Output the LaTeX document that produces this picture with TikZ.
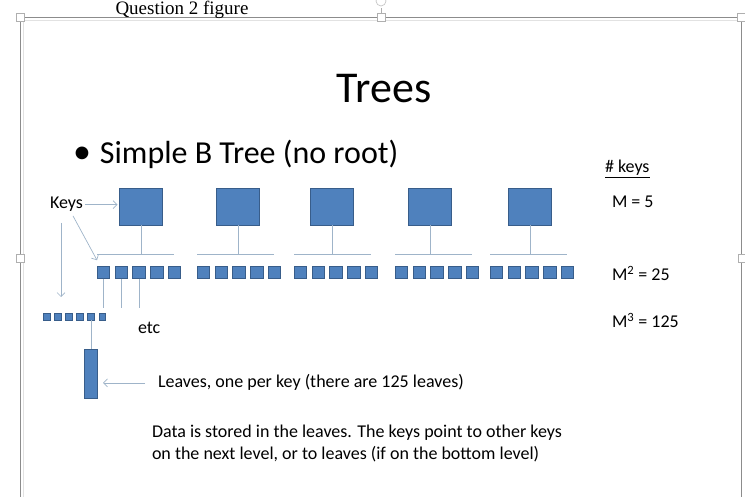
\documentclass[tikz,border=0pt]{standalone}
\usepackage{fontspec}
\setmainfont{Carlito}
\newfontfamily\capfont{Liberation Serif}
\usetikzlibrary{arrows.meta,positioning,calc}

\definecolor{keyblue}{HTML}{4F81BD}
\definecolor{keyedge}{HTML}{385D8A}
\definecolor{wirecol}{HTML}{9FB4C9}
\definecolor{framegray}{HTML}{8C8C8C}

\begin{document}
\begin{tikzpicture}[
  x=1pt, y=-1pt,
  >={Straight Barb[length=4pt,width=8pt]},
  every node/.style={inner sep=0pt, outer sep=0pt},
  bignode/.style={draw=keyedge, fill=keyblue, line width=0.8pt, minimum width=43pt, minimum height=37pt},
  keynode/.style={draw=keyedge, fill=keyblue, line width=0.6pt, minimum size=12.5pt},
  tinykey/.style={draw=keyedge, fill=keyblue, line width=0.4pt, minimum size=6.5pt},
  leafnode/.style={draw=keyedge, fill=keyblue, line width=0.6pt, minimum width=13pt, minimum height=49pt},
  wire/.style={draw=wirecol, line width=0.7pt},
  note/.style={anchor=base west, font=\fontsize{18}{21}\selectfont},
  handle/.style={draw=framegray!70, fill=white, line width=0.7pt, minimum size=8pt}
]
\useasboundingbox (0,0) rectangle (745,497);

% --- picture frame with its handles ---
\draw[framegray!25, line width=1.4pt] (23.5,497) -- (23.5,20.5) -- (738,20.5);
\draw[framegray, line width=0.8pt] (20,497) -- (20,17) -- (740,17);
\draw[framegray, line width=0.8pt] (741,22) -- (741,497);
\draw[framegray!70, line width=0.7pt] (381,17) -- (381,8);
\draw[framegray!50, line width=0.7pt] (381,1) circle (5);
\node[handle] (hTL) at (20,17) {};
\node[handle] (hTM) at (381,17) {};
\node[handle] (hTR) at (741,17) {};
\node[handle] (hML) at (20,258) {};
\node[handle] (hMR) at (742,258) {};

\node[anchor=base, font=\capfont\fontsize{19}{23}\selectfont] (caption) at (182,15) {Question 2 figure};

% --- titles ---
\node[anchor=base, font=\fontsize{44}{52}\selectfont] (title) at (384,103) {Trees};
\node[anchor=base west, font=\fontsize{32}{38}\selectfont] (bullet) at (73,164) {{\fontsize{36}{36}\selectfont\textbullet}\hspace{9pt}Simple B Tree (no root)};

% --- top level, five groups of five keys ---
\foreach \g/\xl/\xc in {1/97/141, 2/197/238, 3/294/332, 4/395/430, 5/490/530} {
  \node[bignode] (top\g) at (\xc,206.5) {};
  \coordinate (busL\g) at (\xl,254);
  \coordinate (busR\g) at (\xl+77,254);
  \draw[wire] (top\g.south) -- (top\g.south |- busL\g);
  \draw[wire] (busL\g) -- (busR\g);
  \foreach \k in {1,...,5} {
    \node[keynode] (k\g-\k) at ({\xl+6.3+17.8*(\k-1)},272.5) {};
  }
}

% --- third level ---
\coordinate (lvl3) at (0,308);
\foreach \k in {1,2,3} {
  \draw[wire] (k1-\k.south) -- (k1-\k.south |- lvl3);
}
\foreach \j in {1,...,6} {
  \node[tinykey] (s\j) at ({46.5+11.1*(\j-1)},316.5) {};
}
\node[leafnode] (leaf) at (90.5,373.5) {};
\draw[wire] (s5.south) -- (s5.south |- leaf.north);

% --- labels ---
\node[note] (keys) at (50,209) {Keys};
\node[note] (etc) at (138,334) {etc};
\node[note] (leaves) at (158,388) {Leaves, one per key (there are 125 leaves)};
\node[note] (data1) at (152,437) {Data is stored in the leaves. The keys point to other keys};
\node[note] (data2) at (152,459) {on the next level, or to leaves (if on the bottom level)};

\node[note] (hdr) at (605,173) {\underline{\# keys}};
\node[note] (m1) at (612,208) {M = 5};
\node[note] (m2) at (612,281) {M\textsuperscript{2} = 25};
\node[note] (m3) at (612,328) {M\textsuperscript{3} = 125};

% --- pointers ---
\coordinate (keysdown) at (61,297);
\draw[wire,->] (keys.east) ++(2,0) -- ([xshift=-2pt]top1.west |- keys.east);
\draw[wire,->] (keysdown |- 0,223) -- (keysdown);
\draw[wire,->] ([xshift=23pt,yshift=-4pt]keys.south west) -- ([yshift=6pt]k1-1.north west);
\draw[wire,->] ([xshift=-13pt]leaves.west) -- ($(leaf.east |- leaves.west)+(6,0)$);

\end{tikzpicture}
\end{document}
